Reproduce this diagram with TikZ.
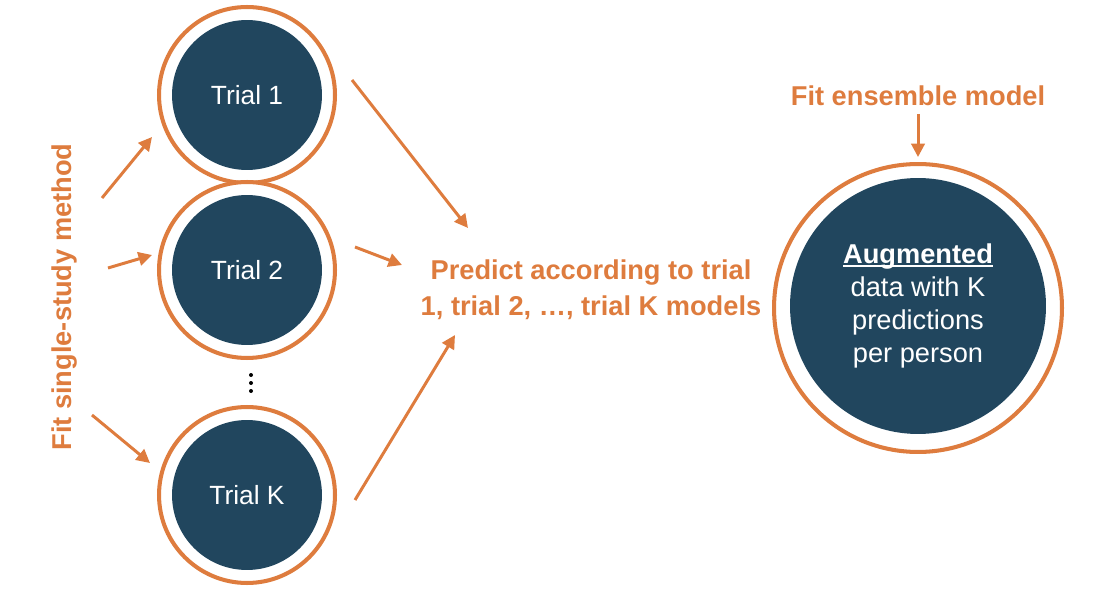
\documentclass[tikz,border=0pt]{standalone}
\usepackage{fontspec}
\setmainfont{Liberation Sans}
\usetikzlibrary{arrows.meta}
\definecolor{fitorange}{RGB}{222,124,62}
\definecolor{trialblue}{RGB}{33,70,94}
\newcommand\augline[1]{\setbox0\hbox{#1}\rlap{\rule[-1.6pt]{\wd0}{1.1pt}}\box0}
\tikzset{
  ring/.style={circle, draw=fitorange, line width=2.3pt, fill=white, minimum size=#1, inner sep=0pt},
  disc/.style={circle, fill=trialblue, text=white, minimum size=#1, inner sep=0pt, align=center,
    font=\fontsize{15}{18.7}\selectfont},
  flow/.style={draw=fitorange, line width=1.7pt, -{Triangle[length=0.27cm, width=0.27cm]}},
  lbl/.style={text=fitorange, font=\fontsize{15.5}{20.4}\selectfont\bfseries, align=center}
}
\begin{document}
\begin{tikzpicture}[x=0.02cm, y=-0.02cm]
  \useasboundingbox (0,0) rectangle (1098,594);
  % trial circles
  \node[ring=3.52cm] (R1) at (247,95) {};
  \node[disc=3cm] (T1) at (247,95) {Trial 1};
  \node[ring=3.52cm] (R2) at (247,270) {};
  \node[disc=3cm] (T2) at (247,270) {Trial 2};
  \node[ring=3.52cm] (RK) at (247,495) {};
  \node[disc=3cm] (TK) at (247,495) {Trial K};
  \foreach \y in {375,383,391}
    \fill (251,\y) circle (2);
  % augmented data
  \node[ring=5.76cm] (RA) at (918,308) {};
  \node[disc=5.12cm, font=\fontsize{15.5}{18.7}\selectfont] (aug) at (918,306)
    {\augline{\textbf{Augmented}}\\data with K\\predictions\\per person};
  % labels
  \node[lbl, rotate=90] (fit) at (65,297) {Fit single-study method};
  \node[lbl] (pred) at (591,290) {Predict according to trial\\1, trial 2, …, trial K models};
  \node[lbl] (ens) at (918,96) {Fit ensemble model};
  % arrow ends
  \coordinate (a1) at (102,198); \coordinate (b1) at (152,137);
  \coordinate (a2) at (108,268); \coordinate (b2) at (152,255);
  \coordinate (a3) at (92,415);  \coordinate (b3) at (150,463);
  \coordinate (c1) at (352,80);  \coordinate (d1) at (468,228);
  \coordinate (c2) at (355,247); \coordinate (d2) at (402,265);
  \coordinate (c3) at (355,500); \coordinate (d3) at (455,335);
  \draw[flow] (a1) -- (b1);
  \draw[flow] (a2) -- (b2);
  \draw[flow] (a3) -- (b3);
  \draw[flow] (c1) -- (d1);
  \draw[flow] (c2) -- (d2);
  \draw[flow] (c3) -- (d3);
  \draw[flow, shorten <=1pt, shorten >=0.1cm] (ens) -- (RA);
\end{tikzpicture}
\end{document}
